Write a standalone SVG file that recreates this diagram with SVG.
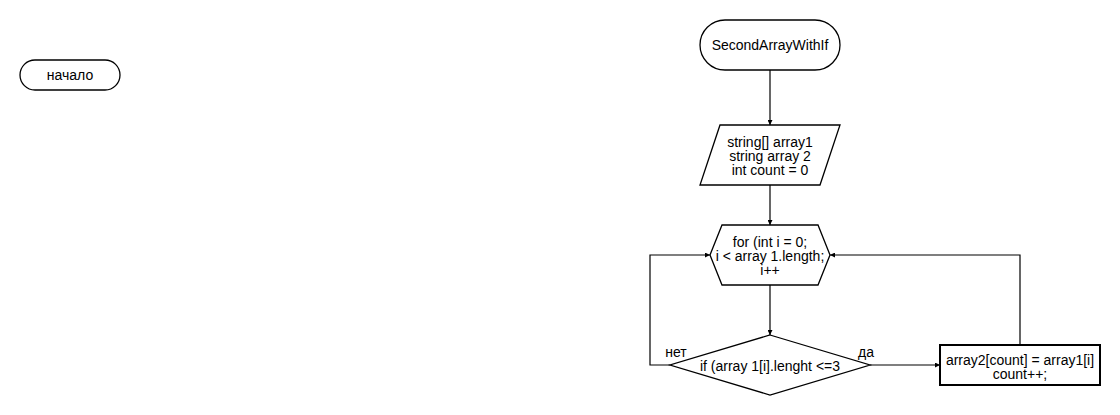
<svg xmlns="http://www.w3.org/2000/svg" width="1120" height="415" viewBox="0 0 1120 415">
<style>
.s{fill:#fff;stroke:#000;stroke-width:1.3}
.b{fill:#fff;stroke:#000;stroke-width:2}
.t{font-family:"Liberation Sans",Arial,sans-serif;font-size:14px;fill:#000;text-anchor:middle}
.c{fill:none;stroke:#000;stroke-width:1.2}
</style>
<defs>
<marker id="a" viewBox="0 0 6 6" refX="6" refY="3" markerWidth="5" markerHeight="5" markerUnits="userSpaceOnUse" orient="auto">
<path d="M0,0 L6,3 L0,6 Z" fill="#000"/>
</marker>
</defs>
<rect width="1120" height="415" fill="#fff"/>
<g id="start">
<rect class="s" x="20" y="60" width="100" height="30" rx="15"/>
<text class="t" x="70" y="80">начало</text>
</g>
<g id="title">
<rect class="s" x="700" y="20" width="140" height="50" rx="25"/>
<text class="t" x="770" y="50">SecondArrayWithIf</text>
</g>
<g id="input">
<polygon class="s" points="720,125 840,125 820,185 700,185"/>
<text class="t" x="770" y="147">string[] array1</text>
<text class="t" x="770" y="161">string array 2</text>
<text class="t" x="770" y="175">int count = 0</text>
</g>
<g id="loop">
<polygon class="s" points="710,255 722,225 818,225 830,255 818,285 722,285"/>
<text class="t" x="770" y="247">for (int i = 0;</text>
<text class="t" x="770" y="261">i &lt; array 1.length;</text>
<text class="t" x="770" y="275">i++</text>
</g>
<g id="cond">
<polygon class="s" points="770,335 870,365 770,395 670,365"/>
<text class="t" x="770" y="371">if (array 1[i].lenght &lt;=3</text>
</g>
<g id="assign">
<rect class="b" x="940" y="345" width="160" height="40"/>
<text class="t" x="1020" y="365">array2[count] = array1[i]</text>
<text class="t" x="1020" y="379">count++;</text>
</g>
<g id="connectors">
<path class="c" d="M770,70 V125" marker-end="url(#a)"/>
<path class="c" d="M770,185 V225" marker-end="url(#a)"/>
<path class="c" d="M770,285 V335" marker-end="url(#a)"/>
<path class="c" d="M870,365 H940" marker-end="url(#a)"/>
<path class="c" d="M670,365 H650 V255 H710" marker-end="url(#a)"/>
<path class="c" d="M1020,345 V255 H830" marker-end="url(#a)"/>
<text class="t" x="866" y="357">да</text>
<text class="t" x="676" y="357">нет</text>
</g>
</svg>
